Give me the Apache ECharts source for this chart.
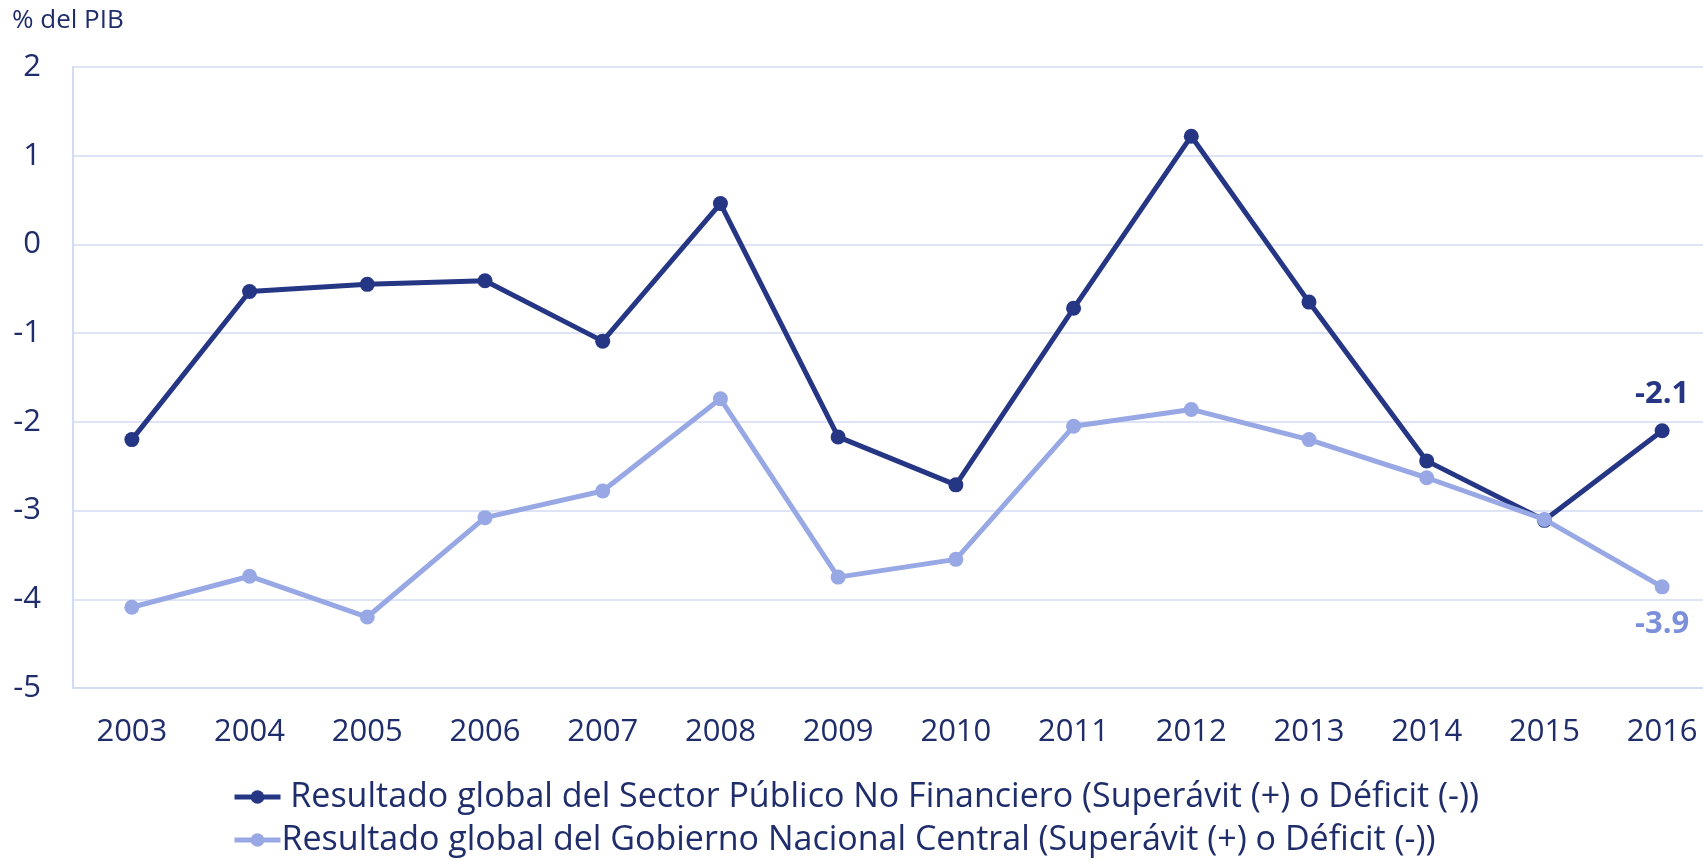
<!DOCTYPE html>
<html>
<head>
<meta charset="utf-8">
<script src="https://cdn.jsdelivr.net/npm/echarts@6/dist/echarts.min.js"></script>
<style>
  html, body { margin: 0; padding: 0; background: #fff; }
  #chart { width: 1703px; height: 861px; }
</style>
</head>
<body>
<div id="chart"></div>
<script>
  // data
  var years = ['2003', '2004', '2005', '2006', '2007', '2008', '2009', '2010', '2011', '2012', '2013', '2014', '2015', '2016'];
  var spnf = [-2.2, -0.53, -0.45, -0.41, -1.09, 0.46, -2.17, -2.71, -0.72, 1.22, -0.65, -2.44, -3.11, -2.1];
  var gnc = [-4.09, -3.74, -4.2, -3.08, -2.78, -1.74, -3.75, -3.55, -2.05, -1.86, -2.2, -2.63, -3.1, -3.86];
  var spnfName = ' Resultado global del Sector Público No Financiero (Superávit (+) o Déficit (-))';
  var gncName = 'Resultado global del Gobierno Nacional Central (Superávit (+) o Déficit (-))';

  var dark = '#253685';
  var light = '#97a8e4';
  var textColor = '#1f2d6b';
  var gridColor = '#d3dbf3';
  var font = '"Open Sans", sans-serif';

  // only the last point carries a label
  function withLastLabel(values, pos, color) {
    return values.map(function(v, i) {
      if (i !== values.length - 1) return v;
      return {
        value: v,
        label: {
          show: true,
          position: pos,
          distance: 14,
          color: color,
          fontFamily: font,
          fontWeight: 'bold',
          fontSize: 31,
          formatter: function(p) { return p.value.toFixed(1); }
        }
      };
    });
  }

  // one legend per row, stacked
  function legendRow(name, top) {
    return {
      left: 232,
      top: top,
      padding: 0,
      itemWidth: 46,
      itemHeight: 17,
      lineStyle: { width: 5 },
      textStyle: { fontFamily: font, fontSize: 34, color: textColor, padding: [0, 0, 0, -4] },
      data: [name]
    };
  }

  var chart = echarts.init(document.getElementById('chart'));
  chart.setOption({
    animation: false,
    textStyle: { fontFamily: font, color: textColor },
    graphic: [{
      type: 'text',
      left: 12,
      top: 8,
      style: { text: '% del PIB', font: '26px ' + font, fill: textColor }
    }],
    legend: [legendRow(spnfName, 780), legendRow(gncName, 823)],
    grid: {
      left: 73,
      top: 67,
      right: -18,
      bottom: 173,
      outerBoundsMode: 'none'
    },
    xAxis: {
      type: 'category',
      data: years,
      boundaryGap: true,
      axisLine: { show: true, onZero: false, lineStyle: { color: gridColor, width: 2 } },
      axisTick: { show: false },
      axisLabel: { fontSize: 31, color: textColor, margin: 29, fontFamily: font }
    },
    yAxis: {
      type: 'value',
      min: -5,
      max: 2,
      interval: 1,
      axisLine: { show: true, lineStyle: { color: gridColor, width: 2 } },
      axisTick: { show: false },
      splitLine: { lineStyle: { color: gridColor, width: 1.5 } },
      axisLabel: { fontSize: 31, color: textColor, margin: 32, fontFamily: font }
    },
    series: [
      {
        name: spnfName,
        type: 'line',
        data: withLastLabel(spnf, 'top', dark),
        color: dark,
        symbol: 'circle',
        symbolSize: 15,
        lineStyle: { width: 5, color: dark },
        itemStyle: { color: dark },
        z: 2
      },
      {
        name: gncName,
        type: 'line',
        data: withLastLabel(gnc, 'bottom', '#7b8fdb'),
        color: light,
        symbol: 'circle',
        symbolSize: 15,
        lineStyle: { width: 5, color: light },
        itemStyle: { color: light },
        z: 3
      }
    ]
  });
</script>
</body>
</html>
